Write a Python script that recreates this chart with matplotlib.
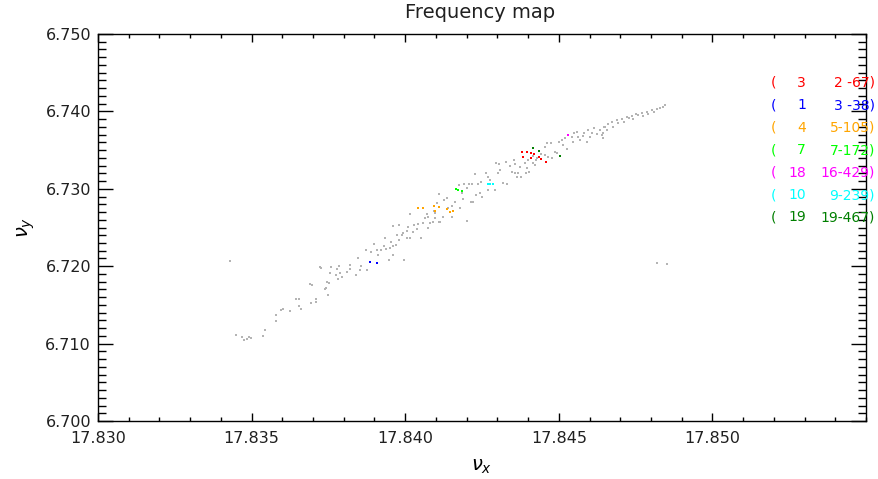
import numpy as np
import matplotlib
matplotlib.use("Agg")
import matplotlib.pyplot as plt
from matplotlib.ticker import MultipleLocator, FormatStrFormatter

plt.rcParams.update({
    "font.family": "DejaVu Sans",
    "axes.linewidth": 1.0,
})

# all orbits (grey background of the frequency map)
nux_all = [
    17.83430, 17.84820, 17.84852,
    17.83449, 17.83469, 17.83475, 17.83485, 17.83492, 17.83498, 17.83537, 17.83544,
    17.83579, 17.83579, 17.83596, 17.83602, 17.83625, 17.83645, 17.83654, 17.83654,
    17.83661, 17.83693, 17.83710, 17.83710, 17.83690, 17.83697, 17.83739, 17.83745,
    17.83752, 17.83749, 17.83723, 17.83758, 17.83755, 17.83775, 17.83778, 17.83781,
    17.83784, 17.83726, 17.83742, 17.83794, 17.83788, 17.83811, 17.83820, 17.83820,
    17.83840, 17.83846, 17.83853, 17.83856, 17.83876, 17.83872, 17.83889, 17.83898,
    17.83908, 17.83911, 17.83921, 17.83931, 17.83934, 17.83937, 17.83947, 17.83951,
    17.83954, 17.83960, 17.83970, 17.83960, 17.83960, 17.83973, 17.83980, 17.83980,
    17.83990, 17.83993, 17.83996, 17.84006, 17.84009, 17.84006, 17.84016, 17.84025,
    17.84029, 17.84038, 17.84042, 17.84051, 17.84058, 17.84064, 17.84071, 17.84074,
    17.84074, 17.84081, 17.84091, 17.84097, 17.84110, 17.84016, 17.84104, 17.84094,
    17.84097, 17.84110, 17.84113, 17.84123, 17.84126, 17.84136, 17.84139, 17.84152,
    17.84152, 17.84162, 17.84175, 17.84178, 17.84185, 17.84188, 17.84191, 17.84201,
    17.84201, 17.84208, 17.84214, 17.84217, 17.84221, 17.84227, 17.84230, 17.84237,
    17.84243, 17.84247, 17.84250, 17.84263, 17.84270, 17.84270, 17.84276, 17.84292,
    17.84296, 17.84302, 17.84305, 17.84309, 17.84318, 17.84328, 17.84331, 17.84341,
    17.84348, 17.84354, 17.84357, 17.84357, 17.84364, 17.84367, 17.84374, 17.84377,
    17.84393, 17.84396, 17.84403, 17.84423, 17.84416, 17.84429, 17.84390, 17.84416,
    17.84426, 17.84455, 17.84462, 17.84465, 17.84475, 17.84478, 17.84488, 17.84494,
    17.84501, 17.84510, 17.84514, 17.84520, 17.84527, 17.84543, 17.84546, 17.84549,
    17.84559, 17.84562, 17.84569, 17.84579, 17.84582, 17.84592, 17.84595, 17.84602,
    17.84608, 17.84615, 17.84624, 17.84634, 17.84644, 17.84650, 17.84657, 17.84660,
    17.84647, 17.84673, 17.84676, 17.84689, 17.84693, 17.84706, 17.84712, 17.84722,
    17.84728, 17.84738, 17.84742, 17.84751, 17.84758, 17.84771, 17.84774, 17.84787,
    17.84790, 17.84803, 17.84810, 17.84820, 17.84829, 17.84839, 17.84846, 17.84641,
    17.84644, 17.84400, 17.84442, 17.84455,
]
nuy_all = [
    6.72067, 6.72041, 6.72028,
    6.71111, 6.71085, 6.71046, 6.71059, 6.71085, 6.71072, 6.71098, 6.71176,
    6.71370, 6.71292, 6.71434, 6.71447, 6.71421, 6.71576, 6.71576, 6.71486,
    6.71447, 6.71525, 6.71576, 6.71537, 6.71770, 6.71757, 6.71705, 6.71796,
    6.71783, 6.71628, 6.71990, 6.71990, 6.71912, 6.71886, 6.71964, 6.71835,
    6.72003, 6.71977, 6.71718, 6.71860, 6.71912, 6.71925, 6.72015, 6.71964,
    6.71886, 6.72106, 6.71951, 6.72003, 6.71951, 6.72209, 6.72183, 6.72287,
    6.72209, 6.72145, 6.72209, 6.72261, 6.72364, 6.72222, 6.72080, 6.72235,
    6.72313, 6.72261, 6.72274, 6.72519, 6.72145, 6.72403, 6.72532, 6.72338,
    6.72403, 6.72429, 6.72080, 6.72455, 6.72506, 6.72364, 6.72364, 6.72442,
    6.72532, 6.72481, 6.72545, 6.72364, 6.72558, 6.72623, 6.72674, 6.72636,
    6.72494, 6.72558, 6.72571, 6.72623, 6.72571, 6.72674, 6.72817, 6.72713,
    6.72687, 6.72933, 6.72571, 6.72636, 6.72855, 6.72881, 6.72752, 6.72636,
    6.72778, 6.72829, 6.73049, 6.72752, 6.72946, 6.72868, 6.73062, 6.73010,
    6.72584, 6.73062, 6.72829, 6.73062, 6.72829, 6.73191, 6.72920, 6.73062,
    6.72946, 6.73088, 6.72894, 6.73204, 6.72984, 6.73152, 6.73114, 6.72984,
    6.73333, 6.73204, 6.73320, 6.73243, 6.73075, 6.73346, 6.73062, 6.73295,
    6.73217, 6.73372, 6.73320, 6.73204, 6.73152, 6.73204, 6.73282, 6.73152,
    6.73204, 6.73269, 6.73217, 6.73307, 6.73424, 6.73398, 6.73333, 6.73333,
    6.73372, 6.73540, 6.73592, 6.73411, 6.73592, 6.73398, 6.73475, 6.73463,
    6.73605, 6.73630, 6.73566, 6.73656, 6.73514, 6.73669, 6.73605, 6.73721,
    6.73734, 6.73669, 6.73630, 6.73682, 6.73721, 6.73605, 6.73760, 6.73669,
    6.73721, 6.73786, 6.73708, 6.73760, 6.73721, 6.73798, 6.73760, 6.73837,
    6.73798, 6.73863, 6.73798, 6.73889, 6.73850, 6.73902, 6.73863, 6.73928,
    6.73915, 6.73941, 6.73902, 6.73966, 6.73953, 6.73979, 6.73941, 6.73992,
    6.73966, 6.74018, 6.73992, 6.74031, 6.74044, 6.74057, 6.74083, 6.73695,
    6.73656, 6.73372, 6.73450, 6.73437,
]

# resonance families: label, colour, tunes
res_count = ["3", "1", "4", "7", "18", "10", "19"]
res_range = ["2 -67)", "3 -38)", "5-105)", "7-172)", "16-429)", "9-239)", "19-467)"]
res_color = ["#ff0000", "#0000ff", "#ffa500", "#00ff00", "#ff00ff", "#00ffff", "#007f00"]

res_nux = [
    [17.84380, 17.84396, 17.84409, 17.84419, 17.84383, 17.84409, 17.84436, 17.84442, 17.84458],
    [17.83885, 17.83908],
    [17.84042, 17.84058, 17.84094, 17.84097, 17.84110, 17.84136, 17.84146, 17.84156],
    [17.84165, 17.84172, 17.84185],
    [17.84530],
    [17.84270, 17.84276, 17.84286],
    [17.84416, 17.84436, 17.84504],
]
res_nuy = [
    [6.73475, 6.73475, 6.73463, 6.73450, 6.73411, 6.73398, 6.73411, 6.73385, 6.73346],
    [6.72054, 6.72041],
    [6.72752, 6.72752, 6.72778, 6.72713, 6.72765, 6.72739, 6.72700, 6.72713],
    [6.72997, 6.72984, 6.72972],
    [6.73695],
    [6.73062, 6.73062, 6.73062],
    [6.73527, 6.73488, 6.73424],
]

W, H = 879, 479
fig = plt.figure(figsize=(W / 100, H / 100), dpi=100)
ax = fig.add_axes([98 / W, 1 - 421 / H, (866 - 98) / W, (421 - 34) / H])

ax.scatter(nux_all, nuy_all, s=3.5, marker="s", color="#b4b4b4", linewidths=0)
for xs, ys, c in zip(res_nux, res_nuy, res_color):
    ax.scatter(xs, ys, s=4.5, marker="s", color=c, linewidths=0, zorder=3)

ax.set_xlim(17.830, 17.855)
ax.set_ylim(6.700, 6.750)
ax.set_xticks([17.830, 17.835, 17.840, 17.845, 17.850])
ax.xaxis.set_minor_locator(MultipleLocator(0.001))
ax.yaxis.set_major_locator(MultipleLocator(0.01))
ax.yaxis.set_minor_locator(MultipleLocator(0.001))
ax.xaxis.set_major_formatter(FormatStrFormatter("%.3f"))
ax.yaxis.set_major_formatter(FormatStrFormatter("%.3f"))

ax.tick_params(axis="both", which="both", direction="in", top=True, right=True,
               labelsize=11.5, width=1.0, labelcolor="#202020")
ax.tick_params(axis="x", which="major", length=5.8, pad=7)
ax.tick_params(axis="x", which="minor", length=2.9)
ax.tick_params(axis="y", which="major", length=11, pad=5)
ax.tick_params(axis="y", which="minor", length=5.5)

ax.set_xlabel(r"$\nu_x$", fontsize=14, labelpad=8)
ax.set_ylabel(r"$\nu_y$", fontsize=14, labelpad=6)
fig.text(480 / W, 1 - 13 / H, "Frequency map", ha="center", va="center", fontsize=14,
         color="#202020")

# resonance list on the right
for i, (n, r, c) in enumerate(zip(res_count, res_range, res_color)):
    yy = 1 - (83 + i * 22.4) / H
    fig.text(771 / W, yy, "(", color=c, fontsize=10, ha="left", va="center")
    fig.text(806 / W, yy, n, color=c, fontsize=10, ha="right", va="center")
    fig.text(875 / W, yy, r, color=c, fontsize=10, ha="right", va="center")

fig.savefig("out.png", dpi=100)
